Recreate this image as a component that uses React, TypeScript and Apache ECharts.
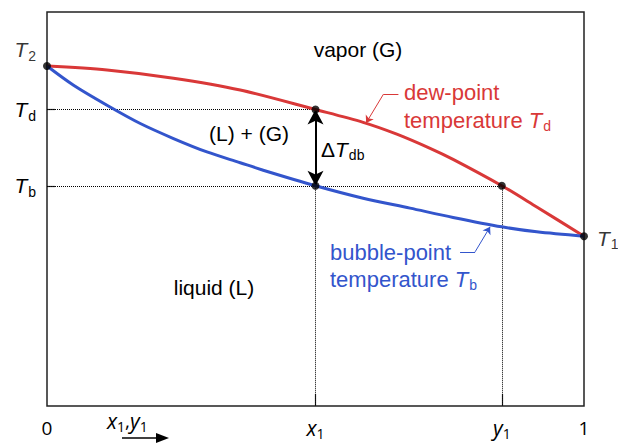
import React, { useEffect, useRef } from 'react';
import * as echarts from 'echarts';

// composition axis positions (mole fraction) and key temperatures (relative units)
const X1 = 0.5;
const Y1 = 0.847;
const T2 = 86.3;
const TD = 75.25;
const TB = 55.9;
const T1 = 43.1;

const xTickValues = [0, X1, Y1, 1];
const xTickNames = ['0', 'x1', 'y1', '1'];
const yTickValues = [TB, TD];
const yTickNames = ['b', 'd'];

// dew-point curve (red)
const dewX = [0, 0.1117, 0.2356, 0.3598, 0.5, 0.5887, 0.6514, 0.7134, 0.7562, 0.847, 0.912, 1];
const dewT = [86.3, 85.3, 83.2, 80.2, 75.25, 72.0, 69.0, 65.4, 62.6, 55.9, 50.5, 43.1];

// bubble-point curve (blue)
const bubbleX = [0, 0.0495, 0.1117, 0.1737, 0.2356, 0.2978, 0.3598, 0.4026, 0.5, 0.5887, 0.676, 0.7562, 0.847, 0.912, 1];
const bubbleT = [86.3, 81.41, 76.34, 71.7, 67.89, 64.49, 61.75, 59.85, 55.9, 52.74, 50.22, 47.86, 45.47, 44.21, 43.1];

// marked points
const markedPoints = [
  [0, T2],
  [X1, TD],
  [X1, TB],
  [Y1, TB],
  [1, T1],
];

// callout leader lines: [start, elbow, arrow tip]
const dewCallout = [[0.6544, 79.13], [0.6265, 79.13], [0.5943, 71.85]];
const bubbleCallout = [[0.7692, 39.13], [0.7972, 39.13], [0.8251, 45.47]];

const RED = '#d93838';
const BLUE = '#3355cc';
const SANS = '"Liberation Sans", Arial, sans-serif';
const OPEN = '"Open Sans", sans-serif';

// rich styles for axis / series labels (use "color")
const richT = {
  n: { fontFamily: SANS, fontSize: 21, lineHeight: 26, color: '#000' },
  i: { fontFamily: SANS, fontSize: 21, fontStyle: 'italic', lineHeight: 26, color: '#000' },
  s: { fontFamily: SANS, fontSize: 14, lineHeight: 14, padding: [12, 0, 0, 1], color: '#000' },
};

// rich styles for graphic texts (use "fill")
const richG = (c: string, size: number) => ({
  n: { fontFamily: SANS, fontSize: size, lineHeight: 26, fill: c },
  i: { fontFamily: SANS, fontSize: size, fontStyle: 'italic', lineHeight: 26, fill: c },
  s: { fontFamily: SANS, fontSize: 14, lineHeight: 14, padding: [12, 0, 0, 1], fill: c },
});

const richX = {
  n: { fontFamily: OPEN, fontSize: 19, lineHeight: 24, color: '#000' },
  i: { fontFamily: OPEN, fontSize: 21, fontStyle: 'italic', lineHeight: 24, color: '#000' },
  s: { fontFamily: OPEN, fontSize: 14, lineHeight: 14, padding: [10, 0, 0, 0], color: '#000' },
};

const richXG = {
  n: { fontFamily: OPEN, fontSize: 19, lineHeight: 24, fill: '#000' },
  i: { fontFamily: OPEN, fontSize: 21, fontStyle: 'italic', lineHeight: 24, fill: '#000' },
  s: { fontFamily: OPEN, fontSize: 14, lineHeight: 14, padding: [10, 0, 0, 0], fill: '#000' },
};

const near = (a: number, b: number) => Math.abs(a - b) < 1e-6;

function xLabel(v: number) {
  const idx = xTickValues.findIndex((t) => near(t, v));
  const name = idx >= 0 ? xTickNames[idx] : '';
  if (name.length === 2) return `{i|${name[0]}}{s|${name[1]}}`;
  return `{n|${name}}`;
}

function yLabel(v: number) {
  const idx = yTickValues.findIndex((t) => near(t, v));
  return `{i|T}{s|${idx >= 0 ? yTickNames[idx] : ''}}`;
}

const dotted = { type: 'dotted', color: '#000', width: 1 };

const option: any = {
  animation: false,
  grid: { left: 47, right: 34, top: 12, bottom: 39, show: true, borderColor: '#222', borderWidth: 1.5 },
  xAxis: {
    type: 'value',
    min: 0,
    max: 1,
    offset: 6,
    axisLine: { show: false },
    splitLine: { show: false },
    axisTick: { show: true, inside: true, length: 12, customValues: [X1, Y1], lineStyle: { color: '#222', width: 1.2 } },
    axisLabel: { customValues: xTickValues, margin: 4, formatter: xLabel, rich: richX },
  },
  yAxis: {
    type: 'value',
    min: 0,
    max: 100,
    offset: 2,
    axisLine: { show: false },
    splitLine: { show: false },
    axisTick: { show: true, inside: true, length: 8, customValues: yTickValues, lineStyle: { color: '#222', width: 1.2 } },
    axisLabel: { customValues: yTickValues, margin: 9, formatter: yLabel, rich: richT },
  },
  series: [
    {
      type: 'line',
      name: 'dew',
      data: dewX.map((x, i) => [x, dewT[i]]),
      smooth: 0.3,
      showSymbol: false,
      clip: false,
      silent: true,
      lineStyle: { color: RED, width: 3 },
      z: 3,
      markLine: {
        silent: true,
        symbol: ['none', 'arrow'],
        symbolSize: 7,
        label: { show: false },
        emphasis: { disabled: true },
        lineStyle: { color: RED, width: 1, type: 'solid' },
        data: [
          [{ coord: dewCallout[0], symbol: 'none' }, { coord: dewCallout[1], symbol: 'none' }],
          [{ coord: dewCallout[1], symbol: 'none' }, { coord: dewCallout[2], symbol: 'arrow' }],
        ],
      },
    },
    {
      type: 'line',
      name: 'bubble',
      data: bubbleX.map((x, i) => [x, bubbleT[i]]),
      smooth: 0.3,
      showSymbol: false,
      clip: false,
      silent: true,
      lineStyle: { color: BLUE, width: 3 },
      z: 3,
      markLine: {
        silent: true,
        symbol: ['none', 'arrow'],
        symbolSize: 7,
        label: { show: false },
        emphasis: { disabled: true },
        lineStyle: { color: BLUE, width: 1, type: 'solid' },
        data: [
          [{ coord: bubbleCallout[0], symbol: 'none' }, { coord: bubbleCallout[1], symbol: 'none' }],
          [{ coord: bubbleCallout[1], symbol: 'none' }, { coord: bubbleCallout[2], symbol: 'arrow' }],
        ],
      },
    },
    {
      type: 'scatter',
      name: 'points',
      clip: false,
      silent: true,
      symbolSize: 8,
      itemStyle: { color: '#000' },
      z: 5,
      data: markedPoints.map((p, i) => {
        if (i === 0) {
          return {
            value: p,
            label: { show: true, position: 'left', distance: 7, offset: [0, -16], formatter: '{i|T}{s|2}', rich: richT },
          };
        }
        if (i === markedPoints.length - 1) {
          return {
            value: p,
            label: { show: true, position: 'right', distance: 9, offset: [0, 2], formatter: '{i|T}{s|1}', rich: richT },
          };
        }
        return { value: p };
      }),
      markLine: {
        silent: true,
        symbol: ['none', 'none'],
        label: { show: false },
        emphasis: { disabled: true },
        lineStyle: dotted,
        z: 2,
        data: [
          [{ coord: [0, TD] }, { coord: [X1, TD] }],
          [{ coord: [0, TB] }, { coord: [Y1, TB] }],
          [{ coord: [X1, TB] }, { coord: [X1, 0] }],
          [{ coord: [Y1, TB] }, { coord: [Y1, 0] }],
          [
            { coord: [X1, TD], symbol: 'arrow', symbolSize: [12, 15], lineStyle: { type: 'solid', width: 2, color: '#000' } },
            { coord: [X1, TB], symbol: 'arrow', symbolSize: [12, 15], lineStyle: { type: 'solid', width: 2, color: '#000' } },
          ],
        ],
      },
    },
  ],
  graphic: [
    { type: 'text', x: 358, y: 49, silent: true, style: { text: 'vapor (G)', fontFamily: SANS, fontSize: 21, fill: '#000', align: 'center', verticalAlign: 'middle' } },
    { type: 'text', x: 249, y: 133, silent: true, style: { text: '(L) + (G)', fontFamily: SANS, fontSize: 21, fill: '#000', align: 'center', verticalAlign: 'middle' } },
    { type: 'text', x: 214, y: 287, silent: true, style: { text: 'liquid (L)', fontFamily: SANS, fontSize: 21, fill: '#000', align: 'center', verticalAlign: 'middle' } },
    { type: 'text', x: 321, y: 149, silent: true, style: { text: '{n|Δ}{i|T}{s|db}', rich: richG('#000', 21), align: 'left', verticalAlign: 'middle' } },
    { type: 'text', x: 404, y: 92, silent: true, style: { text: 'dew-point', fontFamily: SANS, fontSize: 22, fill: RED, align: 'left', verticalAlign: 'middle' } },
    { type: 'text', x: 404, y: 120, silent: true, style: { text: '{n|temperature }{i|T}{s|d}', rich: richG(RED, 22), align: 'left', verticalAlign: 'middle' } },
    { type: 'text', x: 330, y: 252, silent: true, style: { text: 'bubble-point', fontFamily: SANS, fontSize: 22, fill: BLUE, align: 'left', verticalAlign: 'middle' } },
    { type: 'text', x: 330, y: 279, silent: true, style: { text: '{n|temperature }{i|T}{s|b}', rich: richG(BLUE, 22), align: 'left', verticalAlign: 'middle' } },
    { type: 'text', x: 107, y: 421, silent: true, style: { text: '{i|x}{s|1}{n|,}{i|y}{s|1}', rich: richXG, align: 'left', verticalAlign: 'middle' } },
    { type: 'line', silent: true, shape: { x1: 122, y1: 438, x2: 158, y2: 438 }, style: { stroke: '#000', lineWidth: 1.5 } },
    { type: 'polygon', silent: true, shape: { points: [[156, 433], [169, 438], [156, 443]] }, style: { fill: '#000' } },
  ],
};

export default function App() {
  const ref = useRef<HTMLDivElement>(null);
  useEffect(() => {
    const chart = echarts.init(ref.current!, undefined, { renderer: 'svg' });
    chart.setOption(option);
    return () => chart.dispose();
  }, []);
  return (
    <div
      ref={ref}
      style={{ position: 'fixed', left: 0, top: 0, width: 618, height: 445, background: '#fff' }}
    />
  );
}
